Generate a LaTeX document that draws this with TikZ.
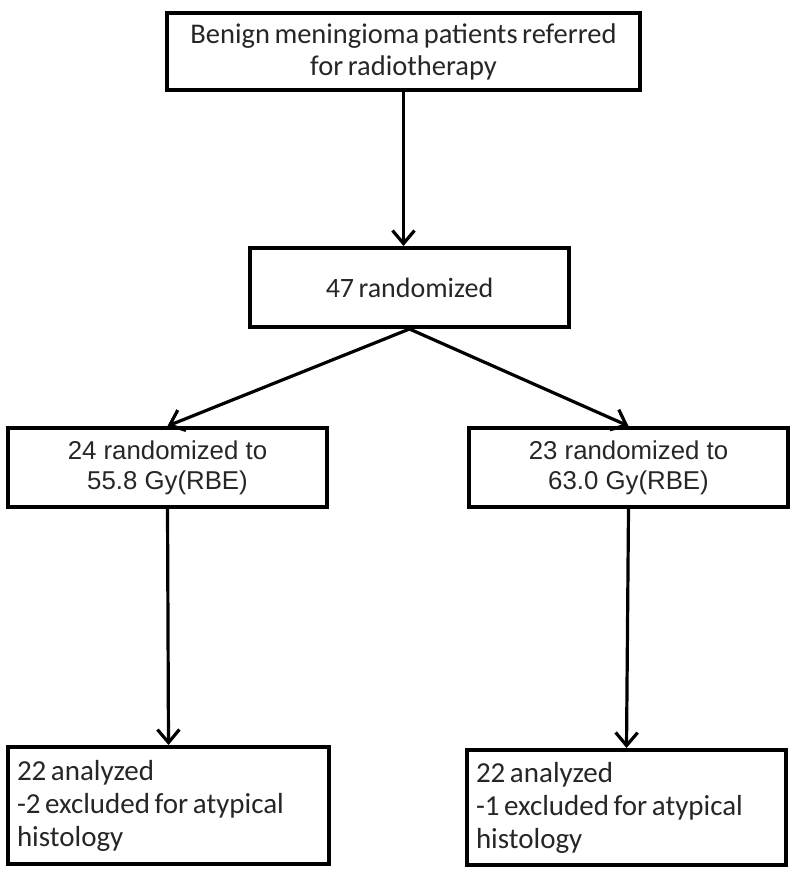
\documentclass[tikz,border=0pt]{standalone}
\usepackage{fontspec}
\setmainfont{Carlito}[WordSpace=0.7]
\newfontfamily\arialfont{Liberation Sans}
\usepackage{tikz}
\usetikzlibrary{arrows.meta}
\tikzstyle{box} = [draw, line width=4pt, inner sep=8pt, align=center, text=black!85]
\tikzstyle{arr} = [line width=3.2pt, -{Straight Barb[length=13pt,width=22pt,line width=3.2pt]}]

\begin{document}
\begin{tikzpicture}[x=1pt,y=-1pt]
  \useasboundingbox (0,0) rectangle (800,873);
  % screening and randomisation
  \node[box, minimum width=473pt, minimum height=77pt,
        font=\fontsize{28.5}{32}\selectfont] (refer) at (403.5,51.5)
        {Benign meningioma patients referred\\for radiotherapy};
  \node[box, minimum width=319pt, minimum height=79pt,
        font=\fontsize{28}{32}\selectfont] (rand) at (409.5,287.5) {47 randomized};
  % the two dose arms
  \node[box, minimum width=319pt, minimum height=79pt,
        font=\arialfont\fontsize{25.8}{30}\selectfont] (lowdose) at (167.5,467.5)
        {24 randomized to\\55.8 Gy(RBE)};
  \node[box, minimum width=319pt, minimum height=79pt,
        font=\arialfont\fontsize{25.8}{30}\selectfont] (highdose) at (628.5,467.5)
        {23 randomized to\\63.0 Gy(RBE)};
  % analysed patients
  \node[box, minimum width=321pt, minimum height=117pt, text width=303pt, align=left,
        font=\fontsize{29}{33}\selectfont] (lowres) at (168.5,805.5)
        {\spaceskip=0pt\relax 22 analyzed\\-2 excluded for atypical\\histology};
  \node[box, minimum width=319pt, minimum height=115pt, text width=301pt, align=left,
        font=\fontsize{29}{33}\selectfont] (highres) at (626.5,807.5)
        {\spaceskip=0pt\relax 22 analyzed\\-1 excluded for atypical\\histology};

  \draw[arr] (refer.south) -- (refer.south |- rand.north);
  \draw[arr] (rand.south) -- (lowdose.north);
  \draw[arr] (rand.south) -- (highdose.north);
  \draw[arr] (lowdose.south) -- (lowres.north);
  \draw[arr] (highdose.south) -- (highres.north);
%  \draw[arr] (rand.east) -- ++(40,0);
\end{tikzpicture}
\end{document}
